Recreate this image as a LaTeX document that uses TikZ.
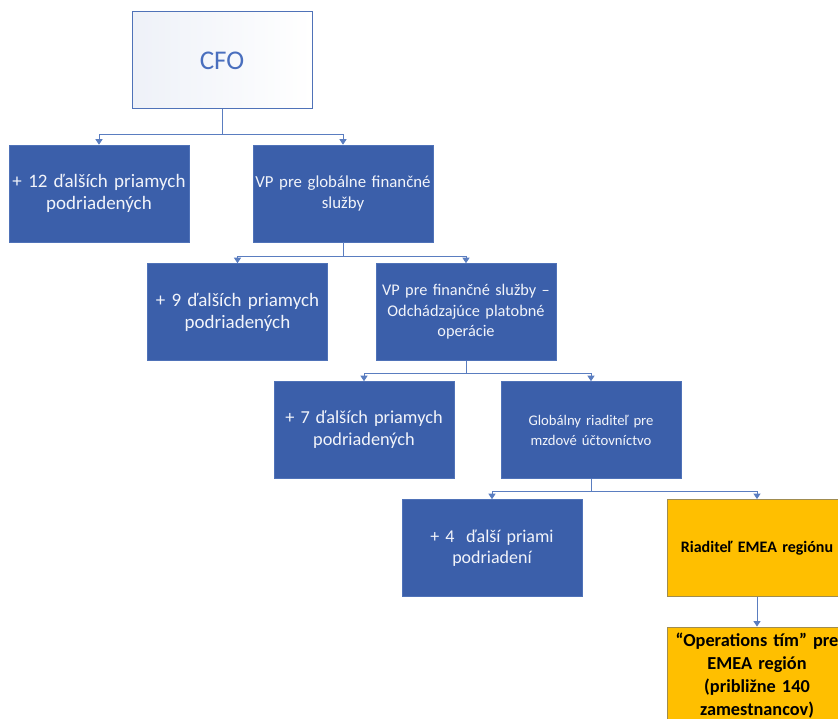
\documentclass[tikz,border=0pt]{standalone}
\usepackage{fontspec}
\setmainfont{Carlito}
\usetikzlibrary{arrows.meta}
\definecolor{boxblue}{HTML}{3B5FAA}
\definecolor{boxedge}{HTML}{4F72B8}
\definecolor{linkblue}{HTML}{5A7DC0}
\definecolor{gold}{HTML}{FFBF00}
\definecolor{goldedge}{HTML}{A08C50}
\definecolor{cfotext}{HTML}{4A6FBE}
\definecolor{cfoshade}{HTML}{EEF1F8}
\definecolor{paletext}{HTML}{F2F4FA}
\tikzset{
  unit/.style={minimum width=180pt, minimum height=97pt, inner sep=0pt,
    align=center, text width=180pt},
  bluebox/.style={unit, fill=boxblue, draw=boxedge, line width=0.6pt, text=paletext},
  goldbox/.style={unit, fill=gold, draw=goldedge, line width=0.8pt, text=black},
  link/.style={draw=linkblue, line width=1pt,
    -{Triangle[width=7pt,length=5.5pt]}},
}
\begin{document}
\begin{tikzpicture}[x=1pt,y=-1pt]
\useasboundingbox (0,0) rectangle (838,719);
\clip (0,0) rectangle (838,719);

% CFO at the top
\node[unit, left color=cfoshade, right color=white, draw=boxedge, line width=1pt,
  text=cfotext, font=\fontsize{27}{30}\selectfont] (cfo) at (222,60.5) {CFO};

% first level
\node[bluebox, font=\fontsize{19}{22}\selectfont] (a1) at (99,193.5)
  {+ 12 ďalších priamych\\podriadených};
\node[bluebox, font=\fontsize{16.8}{21}\selectfont] (b1) at (343,193.5)
  {VP pre globálne finančné\\služby};

% second level
\node[bluebox, font=\fontsize{19}{22}\selectfont] (a2) at (237.5,312)
  {+ 9 ďalších priamych\\podriadených};
\node[bluebox, font=\fontsize{16.3}{20.5}\selectfont] (b2) at (466,312)
  {VP pre finančné služby –\\Odchádzajúce platobné\\operácie};

% third level
\node[bluebox, font=\fontsize{18.3}{22}\selectfont] (a3) at (364,430)
  {+ 7 ďalších priamych\\podriadených};
\node[bluebox, font=\fontsize{14.7}{20}\selectfont] (b3) at (591,430)
  {Globálny riaditeľ pre\\mzdové účtovníctvo};

% fourth level
\node[bluebox, font=\fontsize{18}{21.5}\selectfont] (a4) at (492,548)
  {+ 4~ ďalší priami\\podriadení};
\node[goldbox, font=\bfseries\fontsize{16}{20}\selectfont] (b4) at (757,548)
  {Riaditeľ EMEA regiónu};

% regional team
\node[goldbox, font=\bfseries\fontsize{18.3}{23.2}\selectfont] (ops) at (757,675.5)
  {“Operations tím” pre\\EMEA región\\(približne 140\\zamestnancov)};

% bus lines
\coordinate (bus1) at (0,135);
\coordinate (bus2) at (0,257);
\coordinate (bus3) at (0,373);
\coordinate (bus4) at (0,491);

\draw[link] (cfo.south) -- (cfo.south |- bus1) -| (a1.north);
\draw[link] (cfo.south) -- (cfo.south |- bus1) -| (b1.north);
\draw[link] (b1.south) -- (b1.south |- bus2) -| (a2.north);
\draw[link] (b1.south) -- (b1.south |- bus2) -| (b2.north);
\draw[link] (b2.south) -- (b2.south |- bus3) -| (a3.north);
\draw[link] (b2.south) -- (b2.south |- bus3) -| (b3.north);
\draw[link] (b3.south) -- (b3.south |- bus4) -| (a4.north);
\draw[link] (b3.south) -- (b3.south |- bus4) -| (b4.north);
\draw[link] (b4.south) -- (ops.north);
\end{tikzpicture}
\end{document}
